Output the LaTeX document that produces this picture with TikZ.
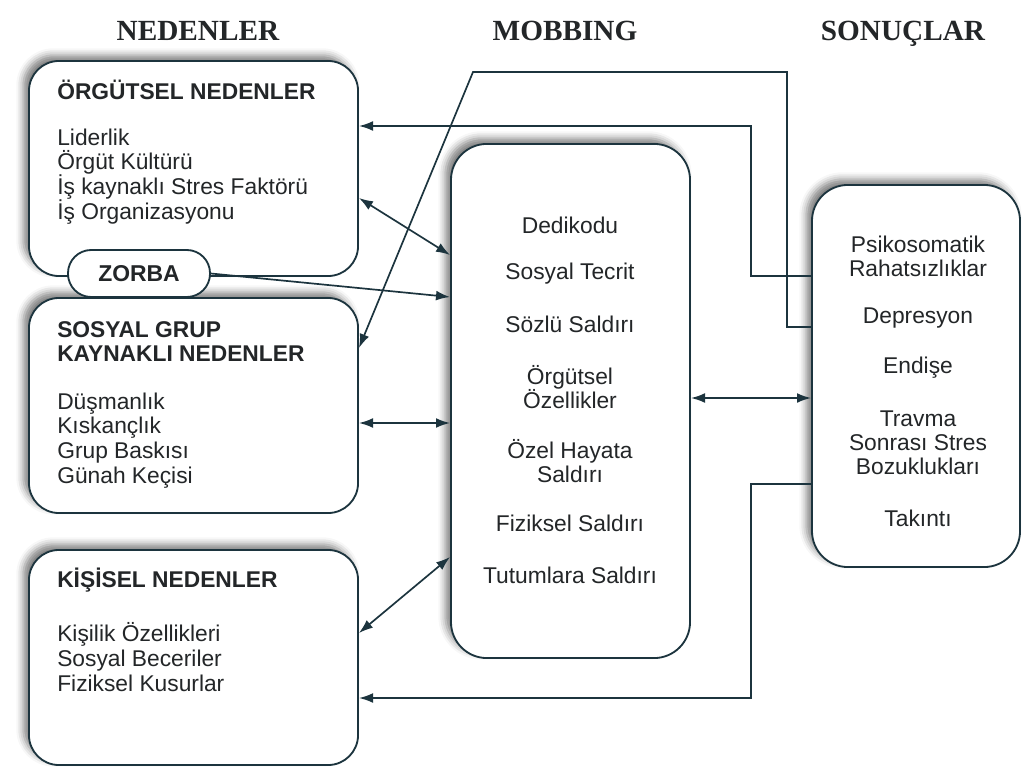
\documentclass[tikz,border=0pt]{standalone}
\usepackage{fontspec}
\setmainfont{Liberation Serif}
\newfontfamily\arial{Liberation Sans}
\usetikzlibrary{arrows.meta,shadows.blur}
\definecolor{linec}{RGB}{28,52,62}
\definecolor{txtc}{RGB}{35,38,40}
\tikzset{
  box/.style={draw=linec, line width=1.3pt, fill=white, rounded corners=0.75cm,
    blur shadow={shadow xshift=-4pt, shadow yshift=4pt, shadow blur radius=5pt, shadow opacity=50}},
  bigbox/.style={box, rounded corners=0.9cm},
  zorbabox/.style={draw=linec, line width=1.3pt, fill=white, rounded corners=0.58cm,
    minimum width=3.55cm, minimum height=1.175cm, inner sep=0pt,
    font=\arial\bfseries\fontsize{16.3}{18}\selectfont, text=txtc},
  hdr/.style={anchor=base, font=\bfseries\fontsize{20.8}{22}\selectfont, text=txtc},
  ttl/.style={anchor=west, align=left, inner sep=0pt, text=txtc,
    font=\arial\bfseries\fontsize{16.2}{17.4}\selectfont},
  lst/.style={anchor=west, align=left, inner sep=0pt, text=txtc,
    font=\arial\fontsize{16.2}{17.6}\selectfont},
  itm/.style={align=center, inner sep=0pt, text=txtc,
    font=\arial\fontsize{16.2}{17.2}\selectfont},
  conn/.style={draw=linec, line width=1.2pt},
  tip/.style={-{Latex[length=10pt,width=7pt]}},
  dtip/.style={{Latex[length=10pt,width=7pt]}-{Latex[length=10pt,width=7pt]}}
}
\begin{document}
\begin{tikzpicture}[x=0.025cm,y=-0.025cm]
\useasboundingbox (0,0) rectangle (1023,767);
% headers
\node[hdr] (h1) at (198,41) {NEDENLER};
\node[hdr] (h2) at (565,41) {MOBBING};
\node[hdr] (h3) at (903,41) {SONUÇLAR};
% boxes
\node[box, minimum width=8.225cm, minimum height=5.375cm] (org) at (193.5,168.5) {};
\node[box, minimum width=8.225cm, minimum height=5.375cm] (sos) at (193.5,405.5) {};
\node[box, minimum width=8.225cm, minimum height=5.375cm] (kis) at (193.5,657.5) {};
\node[bigbox, minimum width=5.975cm, minimum height=12.85cm] (mob) at (570.5,401) {};
\node[bigbox, minimum width=5.2cm, minimum height=9.55cm] (rb) at (916,376) {};
\node[zorbabox] (zorba) at (139,273.5) {ZORBA};
% left texts
\node[ttl] (t1) at (57,90) {ÖRGÜTSEL NEDENLER};
\node[lst] (l1) at (57,176.5) {Liderlik\\Örgüt Kültürü\\İş kaynaklı Stres Faktörü\\İş Organizasyonu};
\node[ttl] (t2) at (57,341.5) {SOSYAL GRUP\\KAYNAKLI NEDENLER};
\node[lst] (l2) at (57,440.5) {Düşmanlık\\Kıskançlık\\Grup Baskısı\\Günah Keçisi};
\node[ttl] (t3) at (57,580) {KİŞİSEL NEDENLER};
\node[lst] (l3) at (57,657) {Kişilik Özellikleri\\Sosyal Beceriler\\Fiziksel Kusurlar};
% mobbing items
\node[itm] (m1) at (570,225) {Dedikodu};
\node[itm] (m2) at (570,274) {Sosyal Tecrit};
\node[itm] (m3) at (570,324) {Sözlü Saldırı};
\node[itm] (m4) at (570,387) {Örgütsel\\Özellikler};
\node[itm] (m5) at (570,461) {Özel Hayata\\Saldırı};
\node[itm] (m6) at (570,523) {Fiziksel Saldırı};
\node[itm] (m7) at (570,575) {Tutumlara Saldırı};
% result items
\node[itm] (r1) at (918,256) {Psikosomatik\\Rahatsızlıklar};
\node[itm] (r2) at (918,318) {Depresyon};
\node[itm] (r3) at (918,368) {Endişe};
\node[itm] (r4) at (918,443) {Travma\\Sonrası Stres\\Bozuklukları};
\node[itm] (r5) at (918,518) {Takıntı};
% helper coordinates
\coordinate (y126) at (0,126);
\coordinate (y198) at (0,198);
\coordinate (y255) at (0,255);
\coordinate (y276) at (0,276);
\coordinate (y297) at (0,297);
\coordinate (y327) at (0,327);
\coordinate (y348) at (0,348);
\coordinate (y398) at (0,398);
\coordinate (y423) at (0,423);
\coordinate (y484) at (0,484);
\coordinate (y557) at (0,557);
\coordinate (y633) at (0,633);
\coordinate (y698) at (0,698);
\coordinate (k1a) at (751,276);
\coordinate (k1b) at (751,126);
\coordinate (k2a) at (787,327);
\coordinate (k2b) at (787,72);
\coordinate (k2c) at (473,72);
\coordinate (k3a) at (751,484);
\coordinate (k3b) at (751,698);
% connectors
\draw[conn, tip] (rb.west |- y276) -- (k1a) -- (k1b) -- (org.east |- y126);
\draw[conn, tip] (rb.west |- y327) -- (k2a) -- (k2b) -- (k2c) -- (sos.east |- y348);
\draw[conn, tip] (rb.west |- y484) -- (k3a) -- (k3b) -- (kis.east |- y698);
\draw[conn, dtip] (org.east |- y198) -- (mob.west |- y255);
\draw[conn, tip] (zorba.east) -- (mob.west |- y297);
\draw[conn, dtip] (sos.east |- y423) -- (mob.west |- y423);
\draw[conn, dtip] (kis.east |- y633) -- (mob.west |- y557);
\draw[conn, dtip] (mob.east |- y398) -- (rb.west |- y398);
\end{tikzpicture}
\end{document}
